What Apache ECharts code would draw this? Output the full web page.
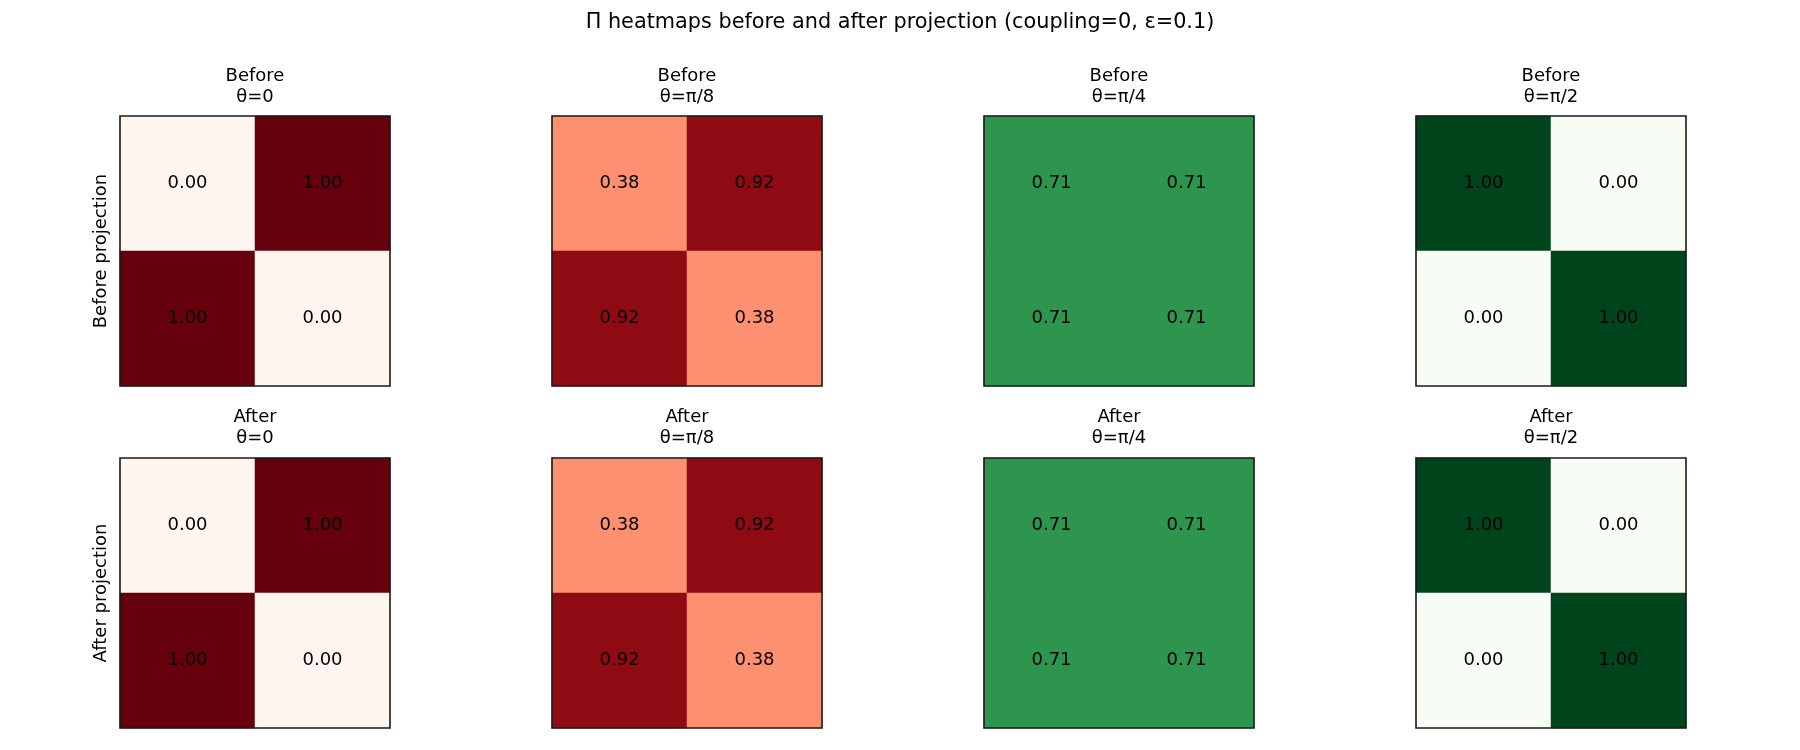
<!DOCTYPE html>
<html>
<head>
<meta charset="utf-8">
<title>Pi heatmaps</title>
<script src="https://cdn.jsdelivr.net/npm/echarts@6/dist/echarts.min.js"></script>
<style>
  html, body { margin: 0; padding: 0; background: #fff; }
  #chart { width: 1800px; height: 750px; }
</style>
</head>
<body>
<div id="chart"></div>
<script>
// 2x2 matrices, row 0 on top
var thetaLabels = ['θ=0', 'θ=π/8', 'θ=π/4', 'θ=π/2'];
var rowNames = ['Before', 'After'];
var rowLabels = ['Before projection', 'After projection'];
var cellLabels = ['0', '1'];

var before0 = [[0.00, 1.00], [1.00, 0.00]];
var before8 = [[0.38, 0.92], [0.92, 0.38]];
var before4 = [[0.71, 0.71], [0.71, 0.71]];
var before2 = [[1.00, 0.00], [0.00, 1.00]];
var after0 = [[0.00, 1.00], [1.00, 0.00]];
var after8 = [[0.38, 0.92], [0.92, 0.38]];
var after4 = [[0.71, 0.71], [0.71, 0.71]];
var after2 = [[1.00, 0.00], [0.00, 1.00]];

var matrices = [
  [before0, before8, before4, before2],
  [after0, after8, after4, after2]
];

// colormaps (colorbrewer stops, as matplotlib uses)
var redsMap = ['#fff5f0', '#fee0d2', '#fcbba1', '#fc9272', '#fb6a4a', '#ef3b2c', '#cb181d', '#a50f15', '#67000d'];
var greensMap = ['#f7fcf5', '#e5f5e0', '#c7e9c0', '#a1d99b', '#74c476', '#41ab5d', '#238b45', '#006d2c', '#00441b'];
var colMaps = [redsMap, redsMap, greensMap, greensMap];

var FONT = 'DejaVu Sans';
var panelLeft = 120, panelStep = 432, panelSize = 270;
var panelTops = [116, 458];
var subTitleTops = [65.5, 406.5];

var grids = [], xAxes = [], yAxes = [], series = [], visualMaps = [];
var titles = [{
  text: 'Π heatmaps before and after projection (coupling=0, ε=0.1)',
  left: 'center', top: 10.5, padding: 0,
  textStyle: { fontFamily: FONT, fontSize: 20.8, fontWeight: 'normal', color: '#000', lineHeight: 25 }
}];

var idx = 0;
for (var r = 0; r < 2; r++) {
  for (var c = 0; c < 4; c++) {
    var left = panelLeft + panelStep * c;
    grids.push({
      left: left, top: panelTops[r], width: panelSize, height: panelSize,
      show: true, z: 10, borderColor: '#1a1a1a', borderWidth: 1.6,
      backgroundColor: 'rgba(0,0,0,0)'
    });
    xAxes.push({
      type: 'category', gridIndex: idx, data: cellLabels,
      axisLine: { show: false }, axisTick: { show: false }, axisLabel: { show: false },
      splitLine: { show: false }
    });
    yAxes.push({
      type: 'category', gridIndex: idx, data: cellLabels, inverse: true,
      axisLine: { show: false }, axisTick: { show: false }, axisLabel: { show: false },
      splitLine: { show: false },
      name: c === 0 ? rowLabels[r] : '',
      nameLocation: 'middle', nameRotate: 90, nameGap: 10,
      nameTextStyle: { fontFamily: FONT, fontSize: 18, color: '#000' }
    });
    var m = matrices[r][c];
    var data = [];
    for (var i = 0; i < 2; i++) {
      for (var j = 0; j < 2; j++) {
        data.push([j, i, m[i][j]]);
      }
    }
    series.push({
      type: 'heatmap', xAxisIndex: idx, yAxisIndex: idx, data: data,
      itemStyle: { borderWidth: 0 },
      emphasis: { disabled: true },
      label: {
        show: true, color: '#000', fontFamily: FONT, fontSize: 18,
        formatter: function (p) { return p.value[2].toFixed(2); }
      }
    });
    visualMaps.push({
      type: 'continuous', show: false, seriesIndex: idx, dimension: 2,
      min: 0, max: 1, inRange: { color: colMaps[c] }
    });
    titles.push({
      text: rowNames[r] + '\n' + thetaLabels[c],
      left: left + panelSize / 2, top: subTitleTops[r], textAlign: 'center', padding: 0,
      textStyle: { fontFamily: FONT, fontSize: 18, fontWeight: 'normal', color: '#000', lineHeight: 21 }
    });
    idx++;
  }
}

var chart = echarts.init(document.getElementById('chart'));
chart.setOption({
  backgroundColor: '#fff',
  animation: false,
  title: titles,
  grid: grids,
  xAxis: xAxes,
  yAxis: yAxes,
  visualMap: visualMaps,
  series: series
});
</script>
</body>
</html>
